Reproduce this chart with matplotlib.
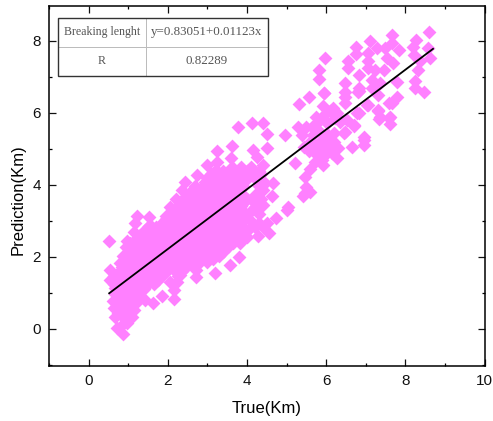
import matplotlib
matplotlib.use('Agg')
import matplotlib.pyplot as plt
from matplotlib.patches import Rectangle
from matplotlib.ticker import MultipleLocator

# (true, prediction)
low_pts=[(0.515,2.44),(0.87,-0.13),(0.72,0.03),(0.85,0.12),(0.97,0.16),(0.67,0.34),(0.85,0.36),(1.1,0.34),
(0.63,0.57),(0.8,0.55),(1.0,0.58),(1.14,0.53),(0.62,0.77),(0.8,0.76),(1.0,0.78),(1.2,0.72),(1.43,0.8),(1.62,0.71),
(0.66,0.96),(0.85,0.97),(1.05,0.95),(1.25,0.98),(1.85,0.92),(2.15,0.82),(0.67,1.13),(0.85,1.16),(1.05,1.15),(1.25,1.17),
(1.4,1.1),(1.5,1.25),(2.3,1.5),(2.15,1.08),(0.55,1.36),(0.75,1.35),(0.95,1.37),(1.15,1.34),(1.35,1.36),(1.55,1.33),(1.75,1.37),(2.05,1.3),(2.23,1.31),
(0.55,1.64),(0.76,1.59),(0.95,1.6),(1.15,1.62),(1.35,1.58),(1.55,1.62),(1.75,1.6),(1.95,1.58),(2.15,1.63),(2.35,1.6),
(2.72,1.45),(2.72,1.65),(3.2,1.56),(0.8,1.84),(1.0,1.8),(1.2,1.83),(1.4,1.8),(1.6,1.85),(1.8,1.82),(2.0,1.84),(2.2,1.8),
(2.4,1.83),(2.6,1.85),(2.78,1.82),(3.0,1.85),(3.57,1.78),(0.88,2.03),(1.07,2.05),(1.27,2.02),(1.47,2.06),(1.67,2.03),
(1.87,2.05),(2.07,2.03),(2.27,2.06),(2.47,2.03),(2.67,2.06),(2.87,2.03),(3.07,2.05),(3.3,2.02),(3.79,2.0),
(0.97,2.43),(0.95,2.27),(1.15,2.28),(1.35,2.25),(1.55,2.29),(1.75,2.26),(1.95,2.28),(2.15,2.25),(2.35,2.29),(2.55,2.26),
(2.75,2.28),(2.95,2.25),(3.15,2.28),(3.35,2.26),(3.55,2.3),(3.82,2.39),(1.14,2.7),(1.2,2.5),(1.4,2.48),(1.6,2.52),
(1.8,2.49),(2.0,2.51),(2.2,2.48),(2.4,2.52),(2.6,2.49),(2.8,2.51),(3.0,2.48),(3.2,2.52),(3.4,2.49),(3.6,2.52),(3.8,2.6),
(4.0,2.55),(4.27,2.58),(4.55,2.66),(1.18,2.93),(1.4,2.72),(1.6,2.74),(1.8,2.71),(2.0,2.75),(2.2,2.72),(2.4,2.74),
(2.6,2.71),(2.8,2.75),(3.0,2.72),(3.2,2.74),(3.4,2.71),(3.6,2.75),(3.8,2.8),(4.05,2.78),(4.5,2.94),(1.22,3.14),(1.52,3.12),
(1.56,2.89),(1.85,2.95),(2.05,2.93),(2.25,2.96),(2.45,2.93),(2.65,2.97),(2.85,2.94),(3.05,2.96),(3.25,2.93),(3.45,2.97),
(3.65,2.94),(3.85,2.98),(4.1,3.0),(4.3,2.95),(4.74,3.08),(1.95,3.15),(2.15,3.18),(2.35,3.15),(2.55,3.19),(2.75,3.16),
(2.95,3.18),(3.15,3.15),(3.35,3.19),(3.55,3.16),(3.75,3.18),(3.95,3.2),(4.3,3.2),(2.05,3.38),(2.25,3.41),(2.45,3.38),
(2.65,3.42),(2.85,3.39),(3.05,3.41),(3.25,3.38),(3.45,3.42),(3.65,3.39),(3.85,3.41),(4.2,3.4),(4.4,3.45),(5.0,3.3),
(2.2,3.62),(2.4,3.64),(2.6,3.61),(2.8,3.65),(3.0,3.62),(3.2,3.64),(3.4,3.61),(3.6,3.65),(3.8,3.62),(4.0,3.6),(4.35,3.62),
(4.63,3.7),(2.35,3.85),(2.65,3.92),(2.85,3.85),(3.05,3.88),(3.25,3.85),(3.45,3.89),(3.65,3.86),(3.85,3.88),(4.4,3.85),
(2.44,4.09),(2.74,4.28),(2.95,4.08),(3.15,4.1),(3.35,4.07),(3.55,4.11),(3.75,4.08),(3.95,4.1),(4.45,4.05),(4.67,4.06),
(3.1,4.3),(3.3,4.32),(3.5,4.3),(3.7,4.33),(3.9,4.3),(4.15,4.25),(4.35,4.3),(2.99,4.56),(3.24,4.65),(3.6,4.75),(3.62,4.5),
(3.85,4.5),(4.26,4.78),(4.1,4.5),(4.4,4.55),(3.24,4.93),(3.62,5.08),(4.15,4.97),(4.5,5.03),(3.77,5.6),(4.14,5.71),
(4.41,5.73),(4.5,5.42),(4.97,5.39)]

# points packed between the rows above, pred -> true values
dense_rows={0.45:[0.75,0.95],0.65:[0.72,0.9,1.1],0.87:[0.75,0.95,1.15],1.05:[0.75,0.95,1.15],
1.25:[0.65,0.85,1.05,1.25,1.45,1.65],1.48:[0.65,0.85,1.05,1.25,1.45,1.65,1.85,2.25],
1.72:[0.85,1.05,1.25,1.45,1.65,1.85,2.05,2.25,2.45],
1.93:[0.95,1.15,1.35,1.55,1.75,1.95,2.15,2.35,2.55,2.75,2.95,3.15],
2.15:[1.0,1.2,1.4,1.6,1.8,2.0,2.2,2.4,2.6,2.8,3.0,3.2,3.4],
2.38:[1.05,1.25,1.45,1.65,1.85,2.05,2.25,2.45,2.65,2.85,3.05,3.25,3.45,3.65],
2.6:[1.3,1.5,1.7,1.9,2.1,2.3,2.5,2.7,2.9,3.1,3.3,3.5,3.7,3.9],
2.83:[1.5,1.7,1.9,2.1,2.3,2.5,2.7,2.9,3.1,3.3,3.5,3.7,3.9,4.2,4.4],
3.05:[1.95,2.15,2.35,2.55,2.75,2.95,3.15,3.35,3.55,3.75,3.95],
3.28:[2.1,2.3,2.5,2.7,2.9,3.1,3.3,3.5,3.7,3.9,4.1],
3.5:[2.3,2.5,2.7,2.9,3.1,3.3,3.5,3.7,3.9,4.2],
3.73:[2.5,2.7,2.9,3.1,3.3,3.5,3.7,3.9,4.2],
3.97:[2.7,2.9,3.1,3.3,3.5,3.7,3.9,4.3],
4.2:[3.0,3.2,3.4,3.6,3.8,4.0,4.2],
4.4:[3.2,3.4,3.6,3.8,4.0,4.3]}

mid_pts=[(5.22,4.62),(5.47,4.23),(5.47,3.77),(5.41,3.68),(5.6,3.81),(5.5,3.95),(5.03,3.38),(5.32,6.25),(5.56,6.44),(5.95,6.55),
(6.48,6.45),(6.81,6.59),(5.28,5.62),(5.39,5.39),(5.64,5.62),(5.68,5.39),(5.43,5.06),(5.89,5.25),(5.56,4.93),(5.72,4.65),
(5.93,4.56),(6.27,4.74),(6.15,4.88),(6.31,5.02),(6.65,5.06),(6.96,5.25),(6.96,5.1),(6.71,5.67),(6.44,5.44),(6.19,5.44),
(5.93,6.18),(6.1,6.04),(6.23,5.85),(6.36,5.76),(6.02,5.71),(5.85,5.48),(6.05,5.4),(5.85,5.06),(6.0,5.15),(5.7,5.15),
(6.78,5.99),(7.05,6.22),(7.32,6.04),(7.34,5.82),(7.58,6.27),(7.58,5.85),(6.0,4.85),(5.75,4.85),(5.5,5.6),(5.8,5.75),
(5.6,5.2),(5.9,4.7),(6.1,5.1),(6.2,5.2),(5.6,4.45),(5.75,5.9),(5.95,5.95)]

top_pts=[(8.59,8.24),(7.66,8.17),(7.1,8.01),(7.66,7.94),(8.28,8.03),(6.76,7.82),(6.76,7.65),(7.28,7.8),(7.49,7.8),(7.85,7.75),
(8.19,7.84),(8.57,7.8),(6.55,7.43),(6.55,7.24),(7.07,7.66),(7.07,7.43),(7.07,7.24),(7.54,7.52),(7.7,7.38),(7.45,7.19),
(7.24,7.19),(8.21,7.61),(8.38,7.43),(8.63,7.52),(8.33,7.19),(6.82,7.06),(7.79,6.87),(8.25,6.89),(8.25,6.69),(8.48,6.59),
(6.48,6.82),(6.48,6.59),(6.82,6.69),(6.82,6.6),(7.16,6.92),(7.16,6.69),(7.37,6.82),(7.32,6.5),(7.79,6.44),(7.66,6.27),
(7.03,6.22),(7.32,6.08),(7.37,5.9),(7.62,5.9),(7.62,5.69),(6.71,5.64),(6.82,5.99),(6.53,5.8),(6.95,5.34),(6.48,6.27),
(6.27,5.99),(6.17,6.14),(6.48,5.48),(6.36,5.8),(5.98,7.52),(5.82,7.19),(5.82,6.93),(5.95,6.56)]

fit_x=[0.52,8.7]
fit_y=[0.99,7.78]
cell_text=[['Breaking lenght','y=0.83051+0.01123x'],['R','0.82289']]

pts=low_pts+mid_pts+top_pts
xs=[p[0] for p in pts]
ys=[p[1] for p in pts]
for y,row in dense_rows.items():
    for x in row:
        xs.append(x)
        ys.append(y)

plt.rcParams['font.family']=['Liberation Sans','DejaVu Sans']
fig=plt.figure(figsize=(4.93,4.21),dpi=100)
ax=fig.add_axes([49/493,1-366/421,435.5/493,360/421])
ax.scatter(xs,ys,marker='D',s=50,color='#ff80ff',linewidths=0,zorder=2)
ax.plot(fit_x,fit_y,color='black',lw=1.3,zorder=3)
ax.set_xlim(-1,10)
ax.set_ylim(-1.03,8.97)
ax.xaxis.set_major_locator(MultipleLocator(2))
ax.xaxis.set_minor_locator(MultipleLocator(1))
ax.yaxis.set_major_locator(MultipleLocator(2))
ax.yaxis.set_minor_locator(MultipleLocator(1))
ax.tick_params(which='major',direction='in',length=5,width=0.9,top=True,right=True,labelsize=11,colors='#111111',pad=6)
ax.tick_params(which='minor',direction='in',length=2.5,width=0.9,top=True,right=True)
for s in ax.spines.values():
    s.set_linewidth(1.1)
ax.set_xlabel('True(Km)',fontsize=12,labelpad=9)
ax.set_ylabel('Prediction(Km)',fontsize=12,labelpad=5,y=0.461)

# table, in axes fraction
tb=ax.table(cellText=cell_text,cellLoc='center',colWidths=[87.5/435.5,122.5/435.5],
            bbox=[9/435.5,1-70/360,210/435.5,58/360],zorder=5)
tb.auto_set_font_size(False)
for k,c in tb.get_celld().items():
    c.set_edgecolor('#bbbbbb')
    c.set_linewidth(0.7)
    c.set_facecolor('white')
    c.get_text().set_fontsize(8.6)
    c.get_text().set_color('#555555')
    c.get_text().set_family(['Liberation Serif','DejaVu Serif'])
for pos in [(0,1),(1,1)]:
    tb[pos].get_text().set_fontsize(9.4)
ax.add_patch(Rectangle((9/435.5,1-70/360),210/435.5,58/360,transform=ax.transAxes,fill=False,edgecolor='#333333',lw=1.0,zorder=6))
fig.savefig('out.png',dpi=100)
